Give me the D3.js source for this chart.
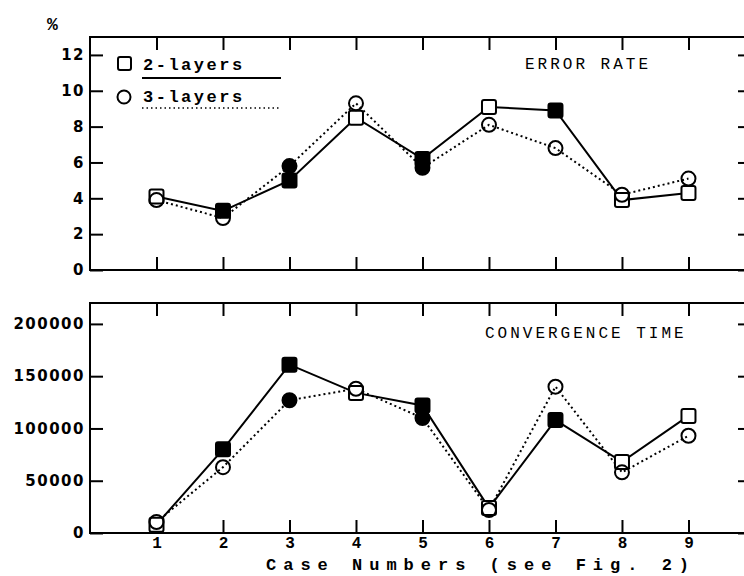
<!DOCTYPE html>
<html>
  <head>
    <title>Error rate / convergence time</title>
    <script src="https://cdn.jsdelivr.net/npm/d3@7"></script>
    <style>
      body { margin: 0; background: #fff; }
    </style>
  </head>
  <body>
    <svg width="744" height="576" id="mainsvg"></svg>
    <script>
      // data
      const cases = [1, 2, 3, 4, 5, 6, 7, 8, 9];
      const error2 = [4.1, 3.3, 5.0, 8.5, 6.2, 9.1, 8.9, 3.9, 4.3];
      const error3 = [3.9, 2.9, 5.8, 9.3, 5.7, 8.1, 6.8, 4.2, 5.1];
      const conv2 = [8000, 80000, 161000, 134000, 122000, 24000, 108000, 68000, 112000];
      const conv3 = [10500, 63000, 127000, 138000, 110000, 22000, 140000, 58000, 93000];
      const filled2 = [2, 3, 5, 7]; // cases drawn with solid square
      const filled3 = [3, 5]; // cases drawn with solid circle
      const errorTicks = [0, 2, 4, 6, 8, 10, 12];
      const convTicks = [0, 50000, 100000, 150000, 200000];

      const svg = d3.select("#mainsvg");
      const left = 90, right = 745;
      const mono = "'Liberation Mono', 'DejaVu Sans Mono', monospace";
      const sans = "'DejaVu Sans', sans-serif";

      const x = d3.scaleLinear().domain([0, 9.85]).range([left, right]);

      const panels = [
        { top: 37, bottom: 270, max: 13, ticks: errorTicks, s2: error2, s3: error3, title: "ERROR RATE", titleX: 525, titleY: 69 },
        { top: 303, bottom: 533, max: 220000, ticks: convTicks, s2: conv2, s3: conv3, title: "CONVERGENCE TIME", titleX: 485, titleY: 338 },
      ];

      panels.forEach((p, pi) => {
        const y = d3.scaleLinear().domain([0, p.max]).range([p.bottom, p.top]);
        const g = svg.append("g");

        // frame
        g.append("rect")
          .attr("x", left).attr("y", p.top)
          .attr("width", right - left).attr("height", p.bottom - p.top)
          .attr("fill", "none").attr("stroke", "#000").attr("stroke-width", 2);

        // left axis, ticks inward
        const yAxis = g.append("g")
          .attr("transform", `translate(${left},0)`)
          .call(d3.axisLeft(y).tickValues(p.ticks).tickFormat(d3.format("d"))
            .tickSizeInner(-13).tickSizeOuter(0).tickPadding(5));
        yAxis.select(".domain").remove();
        yAxis.selectAll("line").attr("stroke-width", 2);
        yAxis.selectAll("text")
          .attr("x", -5)
          .attr("font-family", sans).attr("font-size", 15).attr("font-weight", "bold")
          .attr("letter-spacing", 1.5).attr("fill", "#000");

        // right side short ticks
        const rAxis = g.append("g")
          .attr("transform", `translate(${right},0)`)
          .call(d3.axisRight(y).tickValues(p.ticks).tickSizeInner(-7).tickSizeOuter(0).tickFormat(""));
        rAxis.select(".domain").remove();
        rAxis.selectAll("line").attr("stroke-width", 2);

        // top & bottom ticks inward
        const tAxis = g.append("g")
          .attr("transform", `translate(0,${p.top})`)
          .call(d3.axisTop(x).tickValues(cases).tickSizeInner(-13).tickSizeOuter(0).tickFormat(""));
        tAxis.select(".domain").remove();
        tAxis.selectAll("line").attr("stroke-width", 2);
        const bAxis = g.append("g")
          .attr("transform", `translate(0,${p.bottom})`)
          .call(d3.axisBottom(x).tickValues(cases).tickSizeInner(-13).tickSizeOuter(0)
            .tickFormat(pi === 1 ? d3.format("d") : "").tickPadding(4));
        bAxis.select(".domain").remove();
        bAxis.selectAll("line").attr("stroke-width", 2);
        bAxis.selectAll("text")
          .attr("font-family", mono).attr("font-weight", "bold")
          .attr("font-size", 16).attr("fill", "#000");

        // title
        g.append("text")
          .text(p.title)
          .attr("x", p.titleX).attr("y", p.titleY)
          .attr("font-family", mono).attr("font-size", 16)
          .attr("letter-spacing", 3);

        const line = d3.line().x((d, i) => x(cases[i])).y((d) => y(d));

        g.append("path").datum(p.s2).attr("d", line)
          .attr("fill", "none").attr("stroke", "#000").attr("stroke-width", 2);
        g.append("path").datum(p.s3).attr("d", line)
          .attr("fill", "none").attr("stroke", "#000").attr("stroke-width", 2)
          .attr("stroke-dasharray", "2,3");

        // markers
        g.selectAll(".sq").data(p.s2).join("rect")
          .attr("class", "sq")
          .attr("x", (d, i) => x(cases[i]) - 7).attr("y", (d) => y(d) - 7)
          .attr("width", 14).attr("height", 14).attr("rx", 2)
          .attr("fill", (d, i) => (filled2.includes(cases[i]) ? "#000" : "#fff"))
          .attr("stroke", "#000").attr("stroke-width", 2);
        g.selectAll(".ci").data(p.s3).join("circle")
          .attr("class", "ci")
          .attr("cx", (d, i) => x(cases[i])).attr("cy", (d) => y(d))
          .attr("r", 7)
          .attr("fill", (d, i) => (filled3.includes(cases[i]) ? "#000" : "none"))
          .attr("stroke", "#000").attr("stroke-width", 2);
      });

      // "%" unit
      svg.append("text").text("%")
        .attr("x", 47).attr("y", 30)
        .attr("font-family", mono).attr("font-weight", "bold").attr("font-size", 18);

      // legend
      const lg = svg.append("g");
      lg.append("rect").attr("x", 118).attr("y", 57).attr("width", 13).attr("height", 13).attr("rx", 2)
        .attr("fill", "#fff").attr("stroke", "#000").attr("stroke-width", 2);
      lg.append("text").text("2-layers").attr("x", 143).attr("y", 70)
        .attr("font-family", mono).attr("font-weight", "bold").attr("font-size", 17).attr("letter-spacing", 2.5);
      lg.append("line").attr("x1", 142).attr("x2", 281).attr("y1", 78).attr("y2", 78)
        .attr("stroke", "#000").attr("stroke-width", 2);
      lg.append("circle").attr("cx", 124).attr("cy", 97).attr("r", 6.5)
        .attr("fill", "none").attr("stroke", "#000").attr("stroke-width", 2);
      lg.append("text").text("3-layers").attr("x", 143).attr("y", 102)
        .attr("font-family", mono).attr("font-weight", "bold").attr("font-size", 17).attr("letter-spacing", 2.5);
      lg.append("line").attr("x1", 142).attr("x2", 280).attr("y1", 108).attr("y2", 108)
        .attr("stroke", "#000").attr("stroke-width", 1.5).attr("stroke-dasharray", "1.5,3");

      // x axis title
      svg.append("text").text("Case Numbers (see Fig. 2)")
        .attr("x", 266).attr("y", 570)
        .attr("font-family", mono).attr("font-weight", "bold").attr("font-size", 17)
        .attr("letter-spacing", 7);
    </script>
  </body>
</html>
